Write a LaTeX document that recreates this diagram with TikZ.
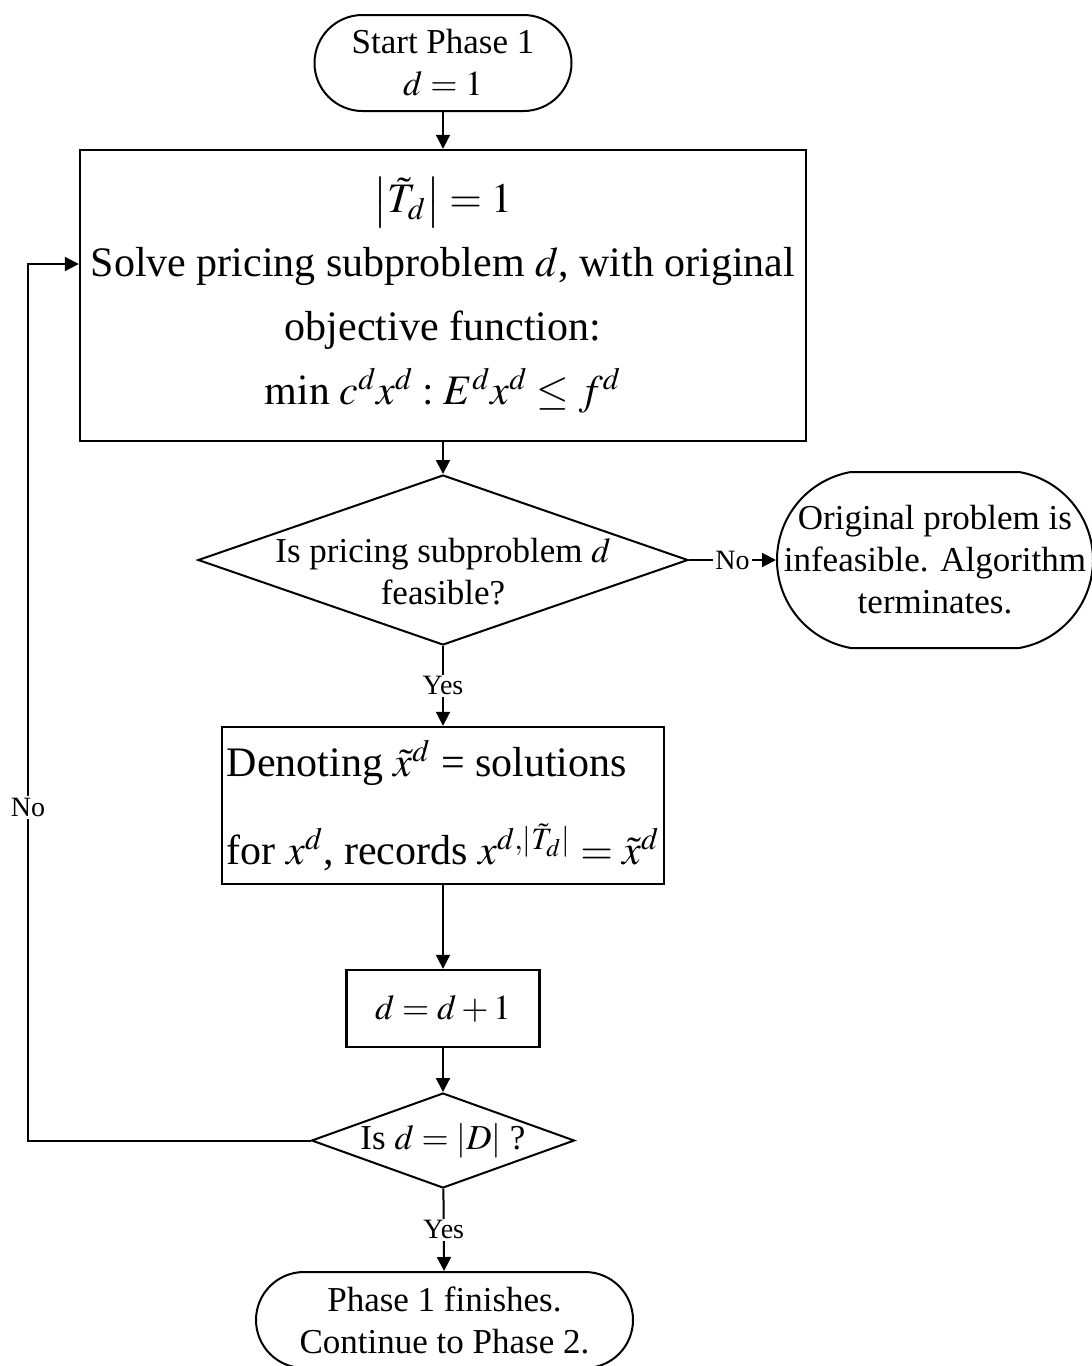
\documentclass[tikz,border=0pt]{standalone}
\usepackage{mathptmx}
\usepackage[no-math]{fontspec}
\setmainfont{Liberation Serif}
\usetikzlibrary{arrows.meta,shapes.geometric,shapes.misc}

\begin{document}
\begin{tikzpicture}[
  x=0.5pt, y=-0.5pt,
  font=\fontsize{17.5}{21}\selectfont,
  >={Triangle[length=7pt,width=7pt]},
  terminal/.style={rounded rectangle, draw=black, line width=1pt, inner sep=0pt},
  process/.style={rectangle, draw=black, line width=1.2pt, inner sep=0pt},
  decision/.style={diamond, draw=black, line width=1pt, inner sep=0pt},
  bigtext/.style={font=\fontsize{21}{32}\selectfont},
  flow/.style={->, draw=black, line width=1pt},
  answer/.style={font=\fontsize{14}{16}\selectfont, fill=white, inner sep=1pt}
]
\useasboundingbox (0,0) rectangle (1092,1366);

\node[terminal, minimum width=128.5pt, minimum height=48pt,
  label={[align=center]center:{Start Phase 1\\$d = 1$}}] (start) at (443,63) {};

\node[process, bigtext, minimum width=363pt, minimum height=145.5pt, align=center]
  (solve) at (443,295.5)
  {$\left|\tilde{T}_d\right| = 1$\\
   Solve pricing subproblem $d$, with original\\
   objective function:\\
   $\min\, c^d x^d : E^d x^d \le f^d$};

\node[decision, minimum width=245pt, minimum height=85pt,
  label={[align=center, yshift=-6pt]center:{Is pricing subproblem $d$\\feasible?}}]
  (feas) at (443,560) {};

\node[terminal, rounded rectangle arc length=160, minimum width=158pt, minimum height=88pt,
  label={[align=center]center:{Original problem is\\infeasible. Algorithm\\terminates.}}]
  (stop) at (935,560) {};

\node[process, minimum width=221pt, minimum height=78.5pt, align=left,
  font=\fontsize{21}{44}\selectfont]
  (note) at (443,805.5)
  {Denoting $\tilde{x}^d$ = solutions\\
   for $x^d$, records $x^{d,|\tilde{T}_d|} = \tilde{x}^d$};

\node[process, minimum width=96.5pt, minimum height=38.5pt] (incr) at (443,1008.5)
  {$d = d + 1$};

\node[decision, minimum width=131.5pt, minimum height=47.5pt,
  label={[align=center]center:{Is $d = \left|D\right|$ ?}}]
  (last) at (443,1140.5) {};

\node[terminal, minimum width=188.5pt, minimum height=48pt,
  label={[align=center]center:{Phase 1 finishes.\\Continue to Phase 2.}}]
  (finish) at (444.5,1320) {};

\coordinate (back) at (28,264);

\draw[flow] (start) -- (solve);
\draw[flow] (solve) -- (feas);
\draw[flow] (feas) -- node[answer] {No} (stop);
\draw[flow] (feas) -- node[answer] {Yes} (note);
\draw[flow] (note) -- (incr);
\draw[flow] (incr) -- (last);
\draw[flow] (last) -- node[answer] {Yes} (finish);
\draw[flow] (last.west) -| node[answer, pos=0.69] {No} (back) -- (solve.west |- back);
\end{tikzpicture}
\end{document}
